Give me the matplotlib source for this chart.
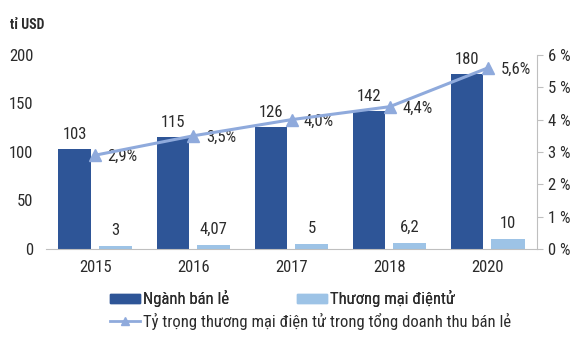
import matplotlib
matplotlib.use("Agg")
import matplotlib.pyplot as plt
from matplotlib.lines import Line2D
from matplotlib.patches import Patch
import numpy as np

plt.rcParams['font.family'] = ['Roboto Condensed', 'DejaVu Sans']

years = ['2015', '2016', '2017', '2018', '2020']
ban_le = [103, 115, 126, 142, 180]
tmdt = [3, 4.07, 5, 6.2, 10]
ty_trong = [2.9, 3.5, 4.0, 4.4, 5.6]

ban_le_labels = ['103', '115', '126', '142', '180']
tmdt_labels = ['3', '4,07', '5', '6,2', '10']
ty_trong_labels = ['2,9%', '3,5%', '4,0%', '4,4%', '5,6%']

dark = '#2E5597'
light = '#9DC3E6'
line_col = '#8FAADC'
txt = '#2B2B2B'
gray = '#BFBFBF'
fs = 12

fig = plt.figure(figsize=(5.83, 3.64), dpi=100)
ax = fig.add_axes([0.079, 0.316, 0.842, 0.533])
x = np.arange(len(years))

ax.bar(x - 0.21, ban_le, width=0.33, color=dark)
ax.bar(x + 0.205, tmdt, width=0.34, color=light)

for i in range(len(years)):
    ax.annotate(ban_le_labels[i], (x[i] - 0.21, ban_le[i]), xytext=(0, 5),
                textcoords='offset points', ha='center', va='bottom',
                fontsize=fs, color=txt)
    ax.annotate(tmdt_labels[i], (x[i] + 0.205, tmdt[i]), xytext=(0, 6),
                textcoords='offset points', ha='center', va='bottom',
                fontsize=fs, color=txt)

ax.set_xlim(-0.5, len(years) - 0.5)
ax.set_ylim(0, 200)
ax.set_yticks([0, 50, 100, 150, 200])
ax.set_xticks(x)
ax.set_xticklabels(years)
ax.tick_params(axis='both', length=0, labelsize=fs, colors=txt)
ax.tick_params(axis='x', pad=8)
ax.tick_params(axis='y', pad=9)
for s in ['top', 'right', 'left']:
    ax.spines[s].set_visible(False)
ax.spines['bottom'].set_color(gray)

ax2 = ax.twinx()
ax2.plot(x, ty_trong, color=line_col, lw=2.2, marker='^', markersize=8, zorder=5)
for i in range(len(years)):
    ax2.annotate(ty_trong_labels[i], (x[i], ty_trong[i]), xytext=(9, -1),
                 textcoords='offset points', ha='left', va='center',
                 fontsize=fs, color=txt)
ax2.set_ylim(0, 6)
ax2.set_yticks(range(7))
ax2.set_yticklabels(['%d %%' % v for v in range(7)])
ax2.tick_params(axis='y', length=4, direction='out', colors=gray,
                labelcolor=txt, labelsize=fs, pad=4)
for s in ['top', 'left', 'bottom']:
    ax2.spines[s].set_visible(False)
ax2.spines['right'].set_color(gray)

fig.text(0.017, 0.93, 'tỉ USD', fontsize=10, fontweight='bold', color=txt,
         va='center', ha='left')

h1 = [Patch(color=dark), Patch(color=light)]
leg1 = fig.legend(h1, ['Ngành bán lẻ', 'Thương mại điệntử'], ncol=2,
                  loc='center left', bbox_to_anchor=(0.189, 0.179),
                  frameon=False, fontsize=fs, handlelength=1.8, handleheight=0.45,
                  handletextpad=0.15, columnspacing=4.1, labelcolor=txt,
                  borderpad=0, borderaxespad=0)
h2 = [Line2D([0], [0], color=line_col, lw=2, marker='^', markersize=6)]
leg2 = fig.legend(h2, ['Tỷ trọng thương mại điện tử trong tổng doanh thu bán lẻ'],
                  loc='center left', bbox_to_anchor=(0.189, 0.118),
                  frameon=False, fontsize=fs, handlelength=1.8,
                  handletextpad=0.15, labelcolor=txt,
                  borderpad=0, borderaxespad=0)
fig.add_artist(leg1)

fig.savefig('out.png', dpi=100, facecolor='white')
